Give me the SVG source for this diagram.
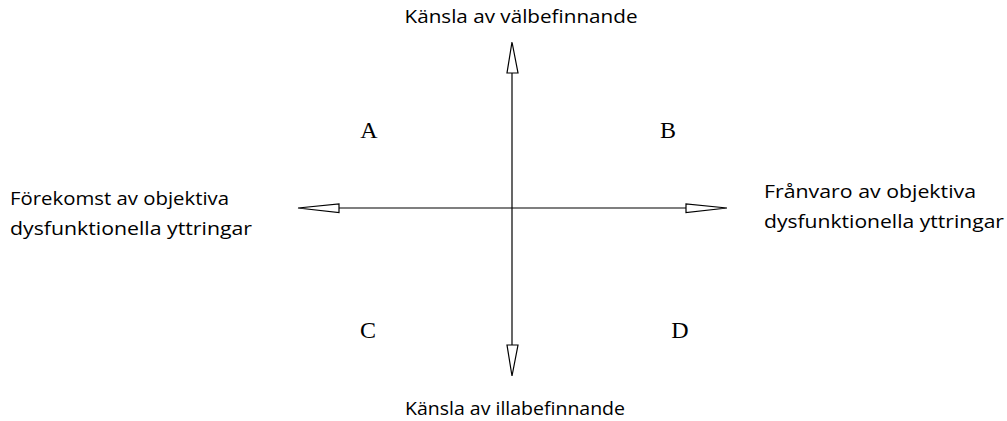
<svg xmlns="http://www.w3.org/2000/svg" width="1007" height="421" viewBox="0 0 1007 421">
<style>
.ax{stroke:#000;stroke-width:1.2;fill:none}
.hd{stroke:#000;stroke-width:1.2;fill:#fff;stroke-linejoin:miter}
.lbl{font-family:"Open Sans","Liberation Sans",sans-serif;font-size:18px;fill:#000}
.q{font-family:"Liberation Serif",serif;font-size:24px;fill:#000}
</style>
<rect width="1007" height="421" fill="#fff"/>
<g id="connectors">
<line class="ax" x1="512" y1="73" x2="512" y2="345"/>
<line class="ax" x1="339" y1="208" x2="686" y2="208"/>
<polygon class="hd" points="512,42 507,73 518,73"/>
<polygon class="hd" points="507,345 518,345 512,376"/>
<polygon class="hd" points="298,208 339,204 339,212.5"/>
<polygon class="hd" points="686,204 686,212.5 727,208"/>
</g>
<g id="top"><text class="lbl" x="521" y="23" text-anchor="middle" textLength="233" lengthAdjust="spacingAndGlyphs">Känsla av välbefinnande</text></g>
<g id="bottom"><text class="lbl" x="515" y="415" text-anchor="middle" textLength="220" lengthAdjust="spacingAndGlyphs">Känsla av illabefinnande</text></g>
<g id="left"><text class="lbl" x="10" y="205" textLength="219" lengthAdjust="spacingAndGlyphs">Förekomst av objektiva</text><text class="lbl" x="10" y="235" textLength="242" lengthAdjust="spacingAndGlyphs">dysfunktionella yttringar</text></g>
<g id="right"><text class="lbl" x="764" y="198" textLength="212" lengthAdjust="spacingAndGlyphs">Frånvaro av objektiva</text><text class="lbl" x="764" y="228" textLength="240" lengthAdjust="spacingAndGlyphs">dysfunktionella yttringar</text></g>
<g id="A"><text class="q" x="369" y="138" text-anchor="middle">A</text></g>
<g id="B"><text class="q" x="668" y="138" text-anchor="middle">B</text></g>
<g id="C"><text class="q" x="368" y="338" text-anchor="middle">C</text></g>
<g id="D"><text class="q" x="680" y="338" text-anchor="middle">D</text></g>
</svg>
